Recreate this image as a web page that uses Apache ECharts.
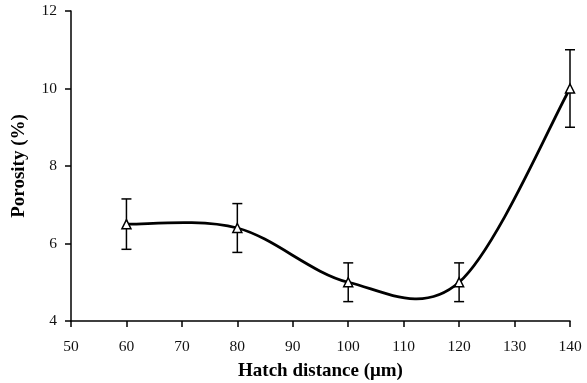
<!DOCTYPE html>
<html><head><meta charset="utf-8">
<script src="https://cdn.jsdelivr.net/npm/echarts@6/dist/echarts.min.js"></script>
<style>html,body{margin:0;padding:0;background:#fff}#c{width:587px;height:383px}</style>
</head><body><div id="c"></div>
<script>
const hatch = [60, 80, 100, 120, 140];
const porosity = [6.5, 6.4, 5.0, 5.0, 10.0];
const errLow = [5.85, 5.77, 4.5, 4.5, 9.0];
const errHigh = [7.15, 7.03, 5.5, 5.5, 11.0];

const chart = echarts.init(document.getElementById('c'));
const font = '"Liberation Serif", "Times New Roman", serif';

// Smooth curve segments (Catmull-Rom style, like spreadsheet smoothed lines)
function segRender(params, api) {
  const i = params.dataIndex;
  const n = hatch.length;
  if (i >= n - 1) return null;
  const P = hatch.map((x, k) => api.coord([x, porosity[k]]));
  const p0 = P[i], p1 = P[i + 1];
  const pm = i > 0 ? P[i - 1] : p0;
  const pp = i + 2 < n ? P[i + 2] : p1;
  const c1 = [p0[0] + (p1[0] - pm[0]) / 6, p0[1] + (p1[1] - pm[1]) / 6];
  const c2 = [p1[0] - (pp[0] - p0[0]) / 6, p1[1] - (pp[1] - p0[1]) / 6];
  return {
    type: 'bezierCurve',
    shape: { x1: p0[0], y1: p0[1], x2: p1[0], y2: p1[1], cpx1: c1[0], cpy1: c1[1], cpx2: c2[0], cpy2: c2[1] },
    style: { stroke: '#000', lineWidth: 2.8, fill: null }
  };
}

chart.setOption({
  animation: false,
  grid: { left: 71, right: 17, top: 11, bottom: 62, outerBoundsMode: 'none' },
  xAxis: {
    type: 'value', min: 50, max: 140, interval: 10,
    name: 'Hatch distance (\u03bcm)', nameLocation: 'middle', nameGap: 41,
    nameTextStyle: { fontFamily: font, fontWeight: 'bold', fontSize: 19, color: '#000' },
    axisLine: { lineStyle: { color: '#000', width: 1.5 } },
    axisTick: { show: true, length: 6, lineStyle: { color: '#000', width: 1.5 } },
    axisLabel: { fontFamily: font, fontSize: 15.5, color: '#111', margin: 18 },
    splitLine: { show: false }
  },
  yAxis: {
    type: 'value', min: 4, max: 12, interval: 2,
    name: 'Porosity (%)', nameLocation: 'middle', nameGap: 42,
    nameTextStyle: { fontFamily: font, fontWeight: 'bold', fontSize: 19, color: '#000' },
    axisLine: { show: true, lineStyle: { color: '#000', width: 1.5 } },
    axisTick: { show: true, length: 6, lineStyle: { color: '#000', width: 1.5 } },
    axisLabel: { fontFamily: font, fontSize: 15.5, color: '#111', margin: 14 },
    splitLine: { show: false }
  },
  series: [
    {
      type: 'custom',
      z: 2,
      data: hatch.map((x, i) => [x, errLow[i], errHigh[i]]),
      renderItem: function (params, api) {
        const x = api.value(0);
        const top = api.coord([x, api.value(2)]);
        const bot = api.coord([x, api.value(1)]);
        const w = 5;
        const st = { stroke: '#000', lineWidth: 1.5 };
        return {
          type: 'group',
          children: [
            { type: 'line', shape: { x1: top[0], y1: top[1], x2: bot[0], y2: bot[1] }, style: st },
            { type: 'line', shape: { x1: top[0] - w, y1: top[1], x2: top[0] + w, y2: top[1] }, style: st },
            { type: 'line', shape: { x1: bot[0] - w, y1: bot[1], x2: bot[0] + w, y2: bot[1] }, style: st }
          ]
        };
      }
    },
    {
      type: 'custom',
      z: 3,
      data: hatch.map((x, i) => [x, porosity[i]]),
      renderItem: segRender
    },
    {
      type: 'scatter',
      z: 4,
      data: hatch.map((x, i) => [x, porosity[i]]),
      symbol: 'triangle', symbolSize: 9,
      itemStyle: { color: '#fff', borderColor: '#000', borderWidth: 1.5, opacity: 1 }
    }
  ]
});
</script></body></html>
